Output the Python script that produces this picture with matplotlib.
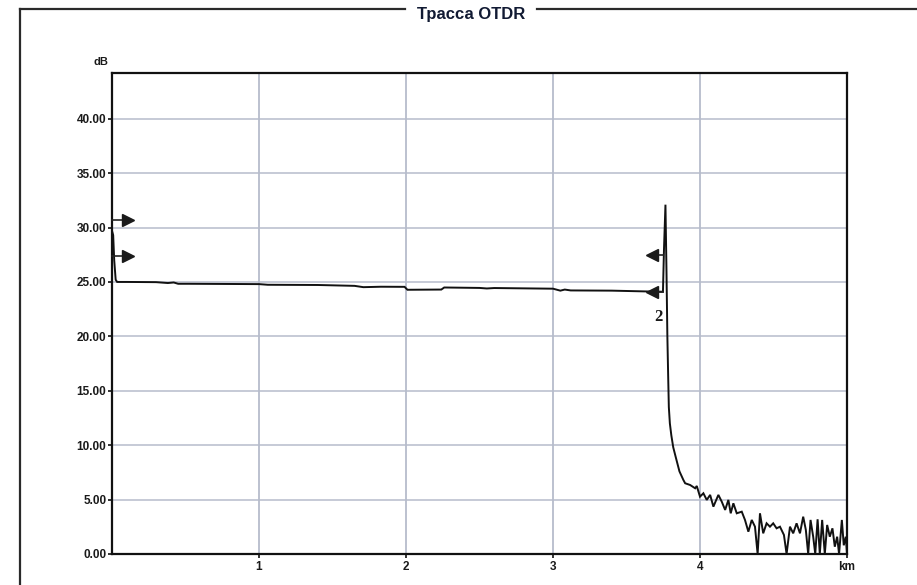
import matplotlib
matplotlib.use("Agg")
import matplotlib.pyplot as plt
from matplotlib.lines import Line2D

# ---- data ----
trace_km = [0.000, 0.008, 0.015, 0.025, 0.035, 0.10, 0.30, 0.38, 0.42, 0.45, 0.52,
            1.00, 1.06, 1.40, 1.65, 1.71, 1.83, 1.99, 2.01, 2.24, 2.26, 2.50, 2.55,
            2.60, 3.00, 3.05, 3.08, 3.12, 3.40, 3.66, 3.748,
            3.755, 3.765, 3.772, 3.778, 3.784, 3.788, 3.795, 3.805, 3.818, 3.835, 3.86, 3.887,
            3.899, 3.933, 3.967, 3.978, 4.000, 4.023, 4.046, 4.069, 4.091, 4.125,
            4.148, 4.171, 4.193, 4.209, 4.227, 4.250, 4.284, 4.306, 4.329, 4.352,
            4.374, 4.392, 4.408, 4.430, 4.453, 4.476, 4.498, 4.521, 4.544, 4.571,
            4.589, 4.612, 4.634, 4.657, 4.680, 4.702, 4.720, 4.736, 4.752, 4.770,
            4.784, 4.800, 4.815, 4.831, 4.849, 4.865, 4.883, 4.901, 4.917, 4.933,
            4.946, 4.965, 4.978, 4.992, 5.000]
trace_db = [29.7, 29.3, 27.0, 25.2, 25.0, 25.0, 24.98, 24.9, 24.95, 24.83, 24.83,
            24.8, 24.74, 24.72, 24.64, 24.52, 24.56, 24.55, 24.28, 24.30, 24.49, 24.45, 24.40,
            24.44, 24.38, 24.20, 24.30, 24.22, 24.20, 24.12, 24.10,
            28.0, 32.1, 26.0, 20.0, 16.0, 13.5, 12.0, 10.9, 9.8, 8.9, 7.6, 6.80,
            6.50, 6.34, 6.04, 6.25, 5.27, 5.58, 4.97, 5.43, 4.35, 5.43,
            4.81, 4.05, 4.97, 3.74, 4.66, 3.74, 3.89, 3.13, 2.05, 3.13,
            2.51, 0.00, 3.74, 1.90, 2.82, 2.51, 2.82, 2.36, 2.51, 1.75,
            0.00, 2.51, 1.90, 2.82, 1.90, 3.43, 2.21, 0.00, 3.13, 1.59,
            0.00, 3.19, 0.00, 3.13, 0.00, 2.67, 1.59, 2.36, 0.67, 1.59,
            0.00, 3.13, 0.80, 1.59, 0.00]

ytick_vals = [0, 5, 10, 15, 20, 25, 30, 35, 40]
ytick_labels = ["0.00", "5.00", "10.00", "15.00", "20.00", "25.00", "30.00", "35.00", "40.00"]
xtick_vals = [1, 2, 3, 4, 5]
xtick_labels = ["1", "2", "3", "4", "km"]

# event markers
right_markers_db = [30.7, 27.4]
right_marker_km = 0.11
left_markers_db = [27.5, 24.12]
left_marker_km = 3.675
event_km = 3.755
event_label = "2"
event_label_pos = (3.72, 21.8)

title = "Трасса OTDR"

# ---- figure ----
plt.rcParams['font.family'] = ['Liberation Sans', 'DejaVu Sans']
fig = plt.figure(figsize=(9.17, 5.85), dpi=100)
fig.patch.set_facecolor('white')

ax = fig.add_axes([112/917, 31/585, (847-112)/917, (554-73)/585])
ax.set_xlim(0, 5.0)
ax.set_ylim(0, 44.2)

grid_c = '#b6bccb'
for y in ytick_vals[1:]:
    ax.axhline(y, color=grid_c, lw=1.1, zorder=1)
for x in xtick_vals[:-1]:
    ax.axvline(x, color=grid_c, lw=1.3, zorder=1)

ax.plot(trace_km, trace_db, color='#111111', lw=1.4, zorder=3, solid_joinstyle='miter')

# markers
for y in right_markers_db:
    ax.plot([0, right_marker_km - 0.03], [y, y], color='#222222', lw=1.2, zorder=4, clip_on=False)
    ax.plot([right_marker_km], [y], marker='>', markersize=8.5, color='#1a1a1a', zorder=5)
for y in left_markers_db:
    ax.plot([left_marker_km + 0.02, event_km - 0.005], [y, y], color='#222222', lw=1.2, zorder=4)
    ax.plot([left_marker_km], [y], marker='<', markersize=8.5, color='#1a1a1a', zorder=5)
ax.text(event_label_pos[0], event_label_pos[1], event_label, family=['Liberation Serif'],
        fontsize=12, fontweight='bold', ha='center', va='center', color='#1a1a1a')

for s in ax.spines.values():
    s.set_linewidth(1.6)
    s.set_color('#111111')

ax.set_yticks(ytick_vals)
ax.set_yticklabels(ytick_labels)
ax.set_xticks(xtick_vals)
ax.set_xticklabels(xtick_labels)
ax.tick_params(axis='both', direction='out', length=3, width=1.2, color='#111111',
               labelsize=8.5, pad=1)
ax.tick_params(axis='x', pad=2)
for lab in ax.get_xticklabels() + ax.get_yticklabels():
    lab.set_fontweight('bold')
    lab.set_color('#1a1a1a')

fig.text(101/917, 1 - 62/585, "dB", fontsize=8, fontweight='bold', ha='center', va='center',
         color='#1a1a1a')

# outer frame with title
fc = '#2a2a2a'
fig.add_artist(Line2D([20/917, 20/917], [0, 1 - 9/585], transform=fig.transFigure, color=fc, lw=1.6))
fig.add_artist(Line2D([20/917, 405/917], [1 - 9/585, 1 - 9/585], transform=fig.transFigure, color=fc, lw=1.6))
fig.add_artist(Line2D([537/917, 1.0], [1 - 9/585, 1 - 9/585], transform=fig.transFigure, color=fc, lw=1.6))
fig.text(471/917, 1 - 14/585, title, fontsize=12, fontweight='bold', ha='center', va='center',
         color='#111a33')

fig.savefig('out.png', dpi=100, facecolor='white')
